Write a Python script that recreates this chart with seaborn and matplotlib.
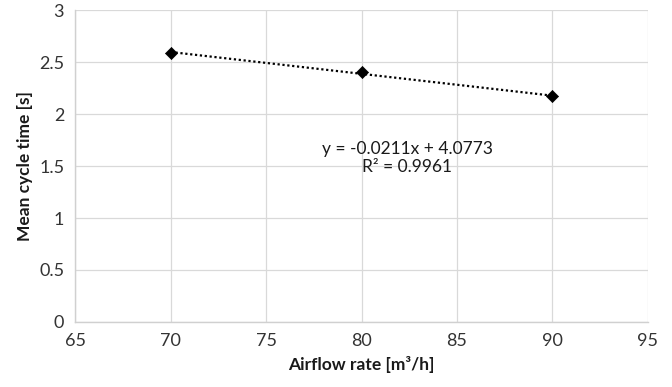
import numpy as np
import pandas as pd
import matplotlib
matplotlib.use("Agg")
import matplotlib.pyplot as plt
import seaborn as sns

airflow = [70, 80, 90]
cycle_time = [2.59, 2.40, 2.17]
x_ticks = [65, 70, 75, 80, 85, 90, 95]
y_ticks = [0, 0.5, 1, 1.5, 2, 2.5, 3]
y_tick_labels = ["0", "0.5", "1", "1.5", "2", "2.5", "3"]
eq_text = "y = -0.0211x + 4.0773\nR² = 0.9961"

sns.set_theme(style="white")
plt.rcParams['font.family'] = ['Lato', 'DejaVu Sans']

df = pd.DataFrame({"x": airflow, "y": cycle_time})

fig = plt.figure(figsize=(6.72, 3.87), dpi=100)
ax = fig.add_axes([0.112, 0.168, 0.852, 0.806])

coef = np.polyfit(df["x"], df["y"], 1)
xs = np.array([min(airflow), max(airflow)])
ax.plot(xs, np.polyval(coef, xs), linestyle=(0, (1, 1.2)), color="black", lw=1.6, zorder=2)
sns.scatterplot(data=df, x="x", y="y", marker="D", s=38, color="black", edgecolor="black", ax=ax, zorder=3)

ax.set_xlim(65, 95)
ax.set_ylim(0, 3)
ax.set_xticks(x_ticks)
ax.set_yticks(y_ticks)
ax.set_yticklabels(y_tick_labels)
ax.grid(True, color="#d9d9d9", lw=0.9)
ax.set_axisbelow(True)
for s in ["top", "right"]:
    ax.spines[s].set_visible(False)
for s in ["left", "bottom"]:
    ax.spines[s].set_color("#d0d0d0")
    ax.spines[s].set_linewidth(1.0)
ax.tick_params(axis="both", length=0, labelsize=13, colors="#333333", pad=8)
ax.set_xlabel("Airflow rate [m³/h]", fontsize=12.5, fontweight="bold", color="#1a1a1a", labelpad=5)
ax.set_ylabel("Mean cycle time [s]", fontsize=12.5, fontweight="bold", color="#1a1a1a", labelpad=4)

ax.text(82.4, 1.58, eq_text, ha="center", va="center", fontsize=12.5, color="#1a1a1a", linespacing=1.15)

fig.savefig("out.png", dpi=100)
